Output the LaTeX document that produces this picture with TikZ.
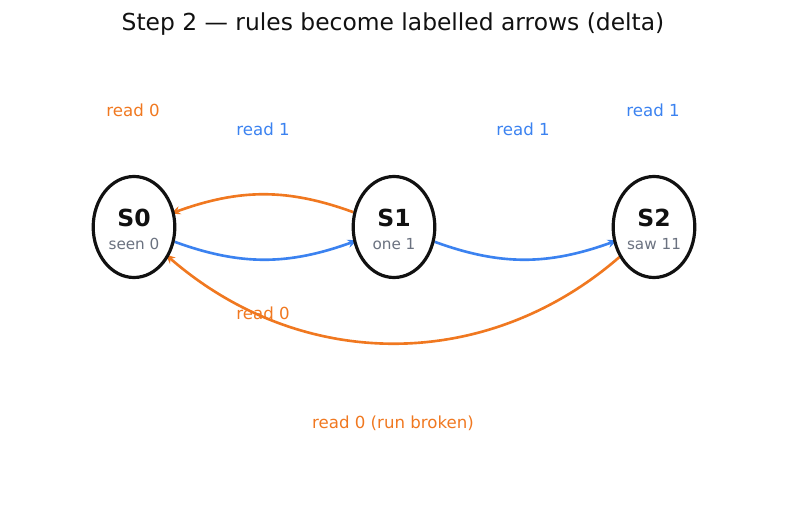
\documentclass[tikz,border=0pt]{standalone}
\usepackage{fontspec}
\setmainfont{DejaVu Sans}
\usetikzlibrary{arrows.meta, shapes.geometric, backgrounds}

\definecolor{runorange}{RGB}{240,120,32}
\definecolor{runblue}{RGB}{59,130,240}
\definecolor{notegray}{RGB}{107,114,128}
\definecolor{inkdark}{RGB}{17,17,17}

\tikzset{
    state/.style={ellipse, draw=inkdark, line width=2.3pt, fill=white, minimum width=59pt, minimum height=73pt, inner sep=0pt},
    statename/.style={font=\fontsize{17}{20}\selectfont\bfseries, text=inkdark},
    statenote/.style={font=\fontsize{11}{13}\selectfont, text=notegray},
    edgelabel/.style={font=\fontsize{12}{14}\selectfont},
    move/.style={line width=1.9pt, -{Stealth[length=7pt, width=6pt]}, shorten >=-3pt},
}

\begin{document}
\begin{tikzpicture}[x=0.254mm, y=-0.254mm]
            \useasboundingbox (0,0) rectangle (787,510);

            \node[font=\fontsize{16.9}{20}\selectfont, text=inkdark] (title) at (393, 24) {Step 2 — rules become labelled arrows (delta)};

            \node[state] (S0) at (134, 227) {};
            \node[state] (S1) at (394, 227) {};
            \node[state] (S2) at (654, 227) {};

            \node[statename] (S0name) at (134, 218) {S0};
            \node[statename] (S1name) at (394, 218) {S1};
            \node[statename] (S2name) at (654, 218) {S2};

            \node[statenote] (S0note) at (134, 244) {seen 0};
            \node[statenote] (S1note) at (394, 244) {one 1};
            \node[statenote] (S2note) at (654, 244) {saw 11};

            \node[edgelabel, text=runorange] (loopS0) at (133, 110) {read 0};
            \node[edgelabel, text=runblue] (S0toS1) at (263, 129) {read 1};
            \node[edgelabel, text=runblue] (S1toS2) at (523, 129) {read 1};
            \node[edgelabel, text=runblue] (loopS2) at (653, 110) {read 1};
            \node[edgelabel, text=runorange] (S1toS0) at (263, 313) {read 0};
            \node[edgelabel, text=runorange] (S2toS0) at (393, 423) {read 0 (run broken)};

            \begin{pgfonlayer}{background}
            \draw[move, runorange] (S1) to[bend right=20] (S0);
            \draw[move, runblue] (S0) to[bend right=20] (S1);
            \draw[move, runblue] (S1) to[bend right=20] (S2);
            \draw[move, runorange] (S2) to[bend left=41] (S0);
            \end{pgfonlayer}
        \end{tikzpicture}
\end{document}
